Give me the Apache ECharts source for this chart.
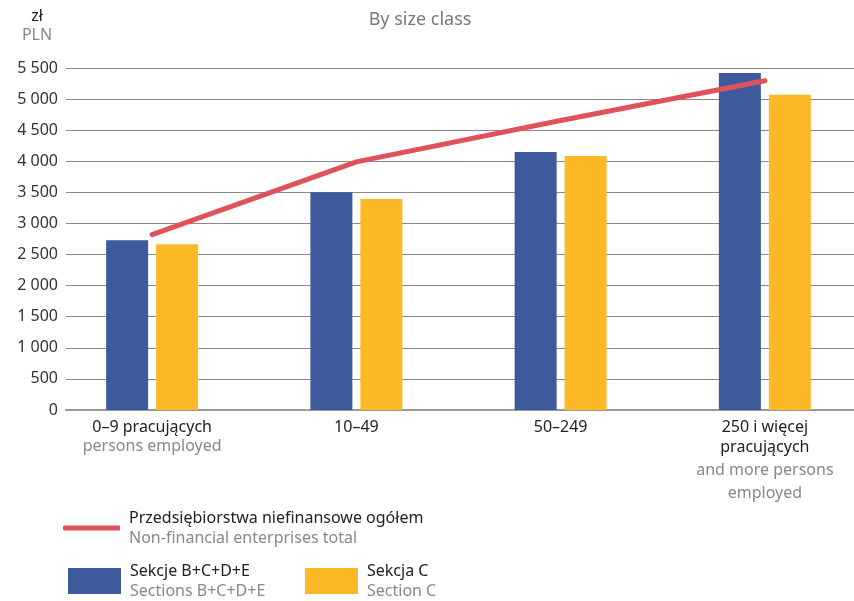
<!DOCTYPE html>
<html>
<head>
<meta charset="utf-8">
<script src="https://cdn.jsdelivr.net/npm/echarts@6/dist/echarts.min.js"></script>
<style>html,body{margin:0;padding:0;background:#fff}#c{width:854px;height:601px}</style>
</head>
<body>
<div id="c"></div>
<script>
const categoriesPl = ['0–9 pracujących', '10–49', '50–249', '250 i więcej\npracujących'];
const categoriesEn = ['persons employed', '', '', 'and more persons\nemployed'];
const seriesNames = ['Przedsiębiorstwa niefinansowe ogółem', 'Sekcje B+C+D+E', 'Sekcja C'];
const seriesNamesEn = ['Non-financial enterprises total', 'Sections B+C+D+E', 'Section C'];
const totalValues = [2820, 3990, 4655, 5295];
const sekcjeBCDE = [2730, 3500, 4150, 5420];
const sekcjaC = [2665, 3392, 4085, 5068];
const yMin = 0, yMax = 5500, yStep = 500;

const FONT = 'Noto Sans';
const BLUE = '#3C5A9C', YELLOW = '#FDB827', RED = '#E0525A';

function fmtThousands(v) { return String(v).replace(/\B(?=(\d{3})+(?!\d))/g, ' '); }

function xLabel(value, idx) {
  const pl = categoriesPl[idx].split('\n').map(s => '{b|' + s + '}');
  const en = categoriesEn[idx] ? categoriesEn[idx].split('\n') : [];
  const enParts = en.map((s, i) => (i === 0 && pl.length > 1 ? '{g1|' : '{g|') + s + '}');
  return pl.concat(enParts).join('\n');
}

function legendFmt(name) {
  const i = seriesNames.indexOf(name);
  return '{b|' + name + '}\n{g|' + seriesNamesEn[i] + '}';
}
const legendRich = {
  b: { fontFamily: FONT, fontSize: 16, color: '#222', lineHeight: 20, padding: [0, 0, 0, 4] },
  g: { fontFamily: FONT, fontSize: 16, color: '#888', lineHeight: 20, padding: [0, 0, 0, 4] }
};

const chart = echarts.init(document.getElementById('c'), null, { renderer: 'canvas' });
chart.setOption({
  animation: false,
  textStyle: { fontFamily: FONT },
  title: [
    { text: 'By size class', left: 415, top: 6, textAlign: 'center',
      textStyle: { fontFamily: FONT, fontSize: 18, fontWeight: 'normal', color: '#777' } },
    { text: 'zł', subtext: 'PLN', left: 37, top: 8, textAlign: 'center', itemGap: 3, padding: 0,
      textStyle: { fontFamily: FONT, fontSize: 16, fontWeight: 'normal', color: '#222' },
      subtextStyle: { fontFamily: FONT, fontSize: 16, color: '#888' } }
  ],
  legend: [
    { data: [seriesNames[0]], left: 63, top: 510, padding: 0, selectedMode: false,
      icon: 'roundRect', itemWidth: 57, itemHeight: 5,
      formatter: legendFmt, textStyle: { rich: legendRich } },
    { data: [seriesNames[1]], left: 68, top: 563, padding: 0, selectedMode: false,
      icon: 'rect', itemWidth: 53, itemHeight: 26,
      formatter: legendFmt, textStyle: { rich: legendRich } },
    { data: [seriesNames[2]], left: 305, top: 563, padding: 0, selectedMode: false,
      icon: 'rect', itemWidth: 53, itemHeight: 26,
      formatter: legendFmt, textStyle: { rich: legendRich } }
  ],
  grid: [
    { left: 50, width: 817, top: 68, height: 342, outerBoundsMode: 'none', containLabel: false },
    { left: 66, right: 0, top: 68, height: 342, outerBoundsMode: 'none', containLabel: false }
  ],
  xAxis: [
    { type: 'category', gridIndex: 0, data: categoriesPl,
      axisLine: { show: false }, axisTick: { show: false },
      axisLabel: { margin: 7, interval: 0, formatter: xLabel,
        rich: {
          b: { fontFamily: FONT, fontSize: 16, color: '#222', lineHeight: 20 },
          g: { fontFamily: FONT, fontSize: 16, color: '#888', lineHeight: 19 },
          g1: { fontFamily: FONT, fontSize: 16, color: '#888', lineHeight: 27 }
        } } },
    { type: 'value', gridIndex: 1, min: 0, max: 1,
      axisLine: { show: true, lineStyle: { color: '#999', width: 2 } },
      axisTick: { show: false }, axisLabel: { show: false }, splitLine: { show: false } }
  ],
  yAxis: [
    { type: 'value', gridIndex: 0, min: yMin, max: yMax, interval: yStep, show: false },
    { type: 'value', gridIndex: 1, min: yMin, max: yMax, interval: yStep,
      axisLine: { show: false }, axisTick: { show: false },
      axisLabel: { margin: 8, fontFamily: FONT, fontSize: 16, color: '#333', formatter: fmtThousands },
      splitLine: { lineStyle: { color: '#8a8a8a', width: 1 } } }
  ],
  series: [
    { name: seriesNames[1], type: 'bar', xAxisIndex: 0, yAxisIndex: 0, data: sekcjeBCDE,
      barWidth: 42, barGap: '19%', itemStyle: { color: BLUE }, z: 2 },
    { name: seriesNames[2], type: 'bar', xAxisIndex: 0, yAxisIndex: 0, data: sekcjaC,
      barWidth: 42, barGap: '19%', itemStyle: { color: YELLOW }, z: 2 },
    { name: seriesNames[0], type: 'line', xAxisIndex: 0, yAxisIndex: 0, data: totalValues,
      symbol: 'none', color: RED, lineStyle: { color: RED, width: 5, cap: 'round', join: 'round' }, z: 4 }
  ]
});
</script>
</body>
</html>
